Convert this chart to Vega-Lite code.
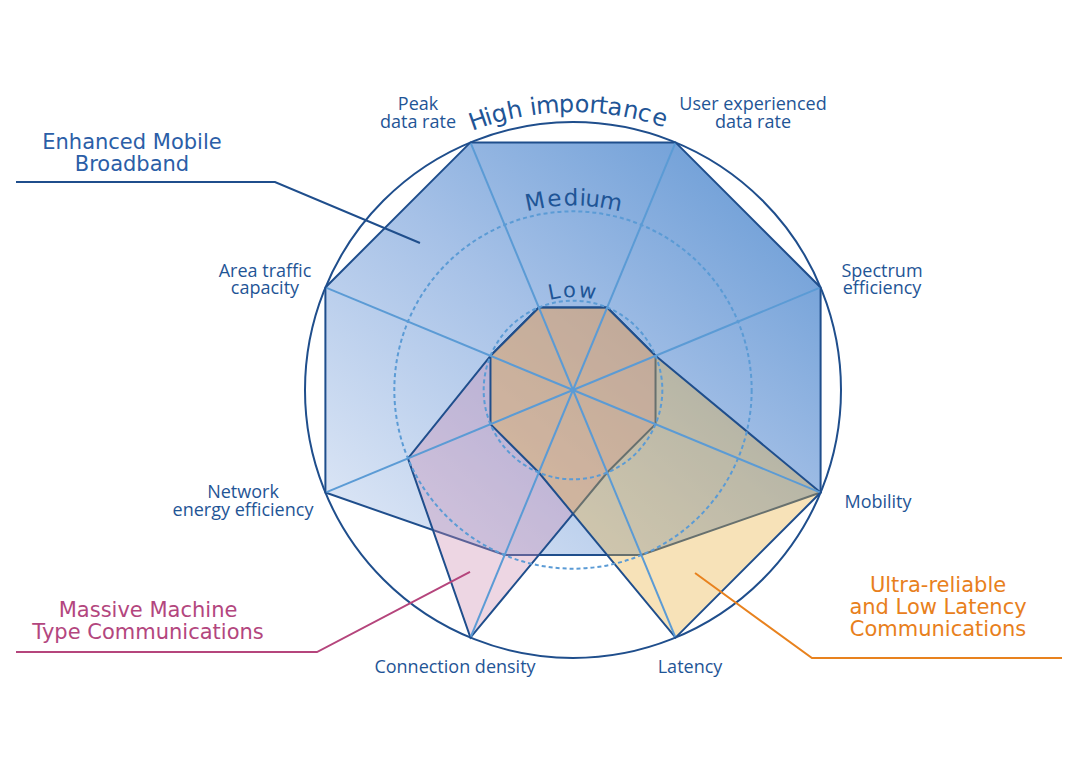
{
  "$schema": "https://vega.github.io/schema/vega-lite/v6.json",
  "width": 1080,
  "height": 758,
  "padding": 0,
  "autosize": {"type": "none"},
  "background": "white",
  "config": {"view": {"stroke": null}},
  "datasets": {
    "radar": [
      {"app": "eMBB", "axis": "Peak data rate", "idx": 0, "level": 3},
      {"app": "eMBB", "axis": "User experienced data rate", "idx": 1, "level": 3},
      {"app": "eMBB", "axis": "Spectrum efficiency", "idx": 2, "level": 3},
      {"app": "eMBB", "axis": "Mobility", "idx": 3, "level": 3},
      {"app": "eMBB", "axis": "Latency", "idx": 4, "level": 2},
      {"app": "eMBB", "axis": "Connection density", "idx": 5, "level": 2},
      {"app": "eMBB", "axis": "Network energy efficiency", "idx": 6, "level": 3},
      {"app": "eMBB", "axis": "Area traffic capacity", "idx": 7, "level": 3},
      {"app": "mMTC", "axis": "Peak data rate", "idx": 0, "level": 1},
      {"app": "mMTC", "axis": "User experienced data rate", "idx": 1, "level": 1},
      {"app": "mMTC", "axis": "Spectrum efficiency", "idx": 2, "level": 1},
      {"app": "mMTC", "axis": "Mobility", "idx": 3, "level": 1},
      {"app": "mMTC", "axis": "Latency", "idx": 4, "level": 1},
      {"app": "mMTC", "axis": "Connection density", "idx": 5, "level": 3},
      {"app": "mMTC", "axis": "Network energy efficiency", "idx": 6, "level": 2},
      {"app": "mMTC", "axis": "Area traffic capacity", "idx": 7, "level": 1},
      {"app": "URLLC", "axis": "Peak data rate", "idx": 0, "level": 1},
      {"app": "URLLC", "axis": "User experienced data rate", "idx": 1, "level": 1},
      {"app": "URLLC", "axis": "Spectrum efficiency", "idx": 2, "level": 1},
      {"app": "URLLC", "axis": "Mobility", "idx": 3, "level": 3},
      {"app": "URLLC", "axis": "Latency", "idx": 4, "level": 3},
      {"app": "URLLC", "axis": "Connection density", "idx": 5, "level": 1},
      {"app": "URLLC", "axis": "Network energy efficiency", "idx": 6, "level": 1},
      {"app": "URLLC", "axis": "Area traffic capacity", "idx": 7, "level": 1}
    ],
    "axes": [
      {"axis": "Peak data rate", "idx": 0},
      {"axis": "User experienced data rate", "idx": 1},
      {"axis": "Spectrum efficiency", "idx": 2},
      {"axis": "Mobility", "idx": 3},
      {"axis": "Latency", "idx": 4},
      {"axis": "Connection density", "idx": 5},
      {"axis": "Network energy efficiency", "idx": 6},
      {"axis": "Area traffic capacity", "idx": 7}
    ],
    "rings": [{"level": 1}, {"level": 2}, {"level": 3}],
    "arcText": [
      {"word": "high", "ch": "H", "a": -19.4, "r": 3.112},
      {"word": "high", "ch": "i", "a": -17.2, "r": 3.112},
      {"word": "high", "ch": "g", "a": -15.0, "r": 3.112},
      {"word": "high", "ch": "h", "a": -11.8, "r": 3.112},
      {"word": "high", "ch": "i", "a": -8.0, "r": 3.112},
      {"word": "high", "ch": "m", "a": -5.1, "r": 3.112},
      {"word": "high", "ch": "p", "a": -1.3, "r": 3.112},
      {"word": "high", "ch": "o", "a": 1.8, "r": 3.112},
      {"word": "high", "ch": "r", "a": 4.3, "r": 3.112},
      {"word": "high", "ch": "t", "a": 6.1, "r": 3.112},
      {"word": "high", "ch": "a", "a": 8.5, "r": 3.112},
      {"word": "high", "ch": "n", "a": 11.7, "r": 3.112},
      {"word": "high", "ch": "c", "a": 14.5, "r": 3.112},
      {"word": "high", "ch": "e", "a": 17.7, "r": 3.112},
      {"word": "medium", "ch": "M", "a": -11.4, "r": 2.065},
      {"word": "medium", "ch": "e", "a": -5.6, "r": 2.065},
      {"word": "medium", "ch": "d", "a": -0.6, "r": 2.065},
      {"word": "medium", "ch": "i", "a": 2.9, "r": 2.065},
      {"word": "medium", "ch": "u", "a": 5.9, "r": 2.065},
      {"word": "medium", "ch": "m", "a": 11.4, "r": 2.065},
      {"word": "low", "ch": "L", "a": -11.0, "r": 1.04},
      {"word": "low", "ch": "o", "a": -2.0, "r": 1.04},
      {"word": "low", "ch": "w", "a": 8.4, "r": 1.04}
    ],
    "labels": [
      {"text": "Peak\ndata rate", "x": -1.735, "y": 3.134},
      {"text": "User experienced\ndata rate", "x": 2.015, "y": 3.134},
      {"text": "Spectrum\nefficiency", "x": 3.459, "y": 1.265},
      {"text": "Mobility", "x": 3.414, "y": -1.321},
      {"text": "Latency", "x": 1.31, "y": -3.168},
      {"text": "Connection density", "x": -1.321, "y": -3.168},
      {"text": "Network\nenergy efficiency", "x": -3.694, "y": -1.209},
      {"text": "Area traffic\ncapacity", "x": -3.448, "y": 1.265}
    ],
    "callouts": [
      {"group": "eMBB", "text": "Enhanced Mobile\nBroadband", "x": -4.937, "y": 2.698},
      {"group": "mMTC", "text": "Massive Machine\nType Communications", "x": -4.757, "y": -2.541},
      {"group": "URLLC", "text": "Ultra-reliable\nand Low Latency\nCommunications", "x": 4.086, "y": -2.261}
    ],
    "leaders": [
      {"group": "eMBB", "k": 0, "x": -6.235, "y": 2.328},
      {"group": "eMBB", "k": 1, "x": -3.336, "y": 2.328},
      {"group": "eMBB", "k": 2, "x": -1.713, "y": 1.646},
      {"group": "mMTC", "k": 0, "x": -6.235, "y": -2.933},
      {"group": "mMTC", "k": 1, "x": -2.866, "y": -2.933},
      {"group": "mMTC", "k": 2, "x": -1.153, "y": -2.037},
      {"group": "URLLC", "k": 0, "x": 1.366, "y": -2.049},
      {"group": "URLLC", "k": 1, "x": 2.675, "y": -3.0},
      {"group": "URLLC", "k": 2, "x": 5.474, "y": -3.0}
    ]
  },
  "layer": [
    {
      "data": {"name": "radar"},
      "transform": [
        {"filter": "datum.app === 'eMBB'"},
        {"calculate": "datum.level * sin((datum.idx * 45 - 22.5) * PI / 180)", "as": "x"},
        {"calculate": "datum.level * cos((datum.idx * 45 - 22.5) * PI / 180)", "as": "y"}
      ],
      "mark": {
        "type": "line", "interpolate": "linear-closed",
        "fill": {"gradient": "linear", "x1": 0, "y1": 1, "x2": 1, "y2": 0,
          "stops": [{"offset": 0, "color": "#e2eaf7"}, {"offset": 0.5, "color": "#a6c1e7"}, {"offset": 1, "color": "#6196d3"}]},
        "stroke": "#1f4e8c", "strokeWidth": 2, "strokeJoin": "miter"
      },
      "encoding": {
        "x": {"field": "x", "type": "quantitative", "scale": {"domain": [-6.4142, 5.6754], "nice": false, "zero": false}, "axis": null},
        "y": {"field": "y", "type": "quantitative", "scale": {"domain": [-4.1194, 4.3657], "nice": false, "zero": false}, "axis": null},
        "order": {"field": "idx", "type": "quantitative"}
      }
    },
    {
      "data": {"name": "radar"},
      "transform": [
        {"filter": "datum.app === 'mMTC'"},
        {"calculate": "datum.level * sin((datum.idx * 45 - 22.5) * PI / 180)", "as": "x"},
        {"calculate": "datum.level * cos((datum.idx * 45 - 22.5) * PI / 180)", "as": "y"}
      ],
      "mark": {
        "type": "line", "interpolate": "linear-closed",
        "fill": "#cc8aaf", "fillOpacity": 0.35,
        "stroke": "#1f4e8c", "strokeWidth": 2, "strokeJoin": "miter"
      },
      "encoding": {
        "x": {"field": "x", "type": "quantitative", "scale": {"domain": [-6.4142, 5.6754], "nice": false, "zero": false}, "axis": null},
        "y": {"field": "y", "type": "quantitative", "scale": {"domain": [-4.1194, 4.3657], "nice": false, "zero": false}, "axis": null},
        "order": {"field": "idx", "type": "quantitative"}
      }
    },
    {
      "data": {"name": "radar"},
      "transform": [
        {"filter": "datum.app === 'URLLC'"},
        {"calculate": "datum.level * sin((datum.idx * 45 - 22.5) * PI / 180)", "as": "x"},
        {"calculate": "datum.level * cos((datum.idx * 45 - 22.5) * PI / 180)", "as": "y"}
      ],
      "mark": {
        "type": "line", "interpolate": "linear-closed",
        "fill": "#e8b03a", "fillOpacity": 0.36,
        "stroke": "#1f4e8c", "strokeWidth": 2, "strokeJoin": "miter"
      },
      "encoding": {
        "x": {"field": "x", "type": "quantitative", "scale": {"domain": [-6.4142, 5.6754], "nice": false, "zero": false}, "axis": null},
        "y": {"field": "y", "type": "quantitative", "scale": {"domain": [-4.1194, 4.3657], "nice": false, "zero": false}, "axis": null},
        "order": {"field": "idx", "type": "quantitative"}
      }
    },
    {
      "data": {"name": "axes"},
      "transform": [
        {"calculate": "3 * sin((datum.idx * 45 - 22.5) * PI / 180)", "as": "xe"},
        {"calculate": "3 * cos((datum.idx * 45 - 22.5) * PI / 180)", "as": "ye"},
        {"calculate": "0", "as": "x"},
        {"calculate": "0", "as": "y"}
      ],
      "mark": {"type": "rule", "stroke": "#5b9bd5", "strokeWidth": 2},
      "encoding": {
        "x": {"field": "x", "type": "quantitative", "scale": {"domain": [-6.4142, 5.6754], "nice": false, "zero": false}, "axis": null},
        "y": {"field": "y", "type": "quantitative", "scale": {"domain": [-4.1194, 4.3657], "nice": false, "zero": false}, "axis": null},
        "x2": {"field": "xe"},
        "y2": {"field": "ye"}
      }
    },
    {
      "data": {"name": "rings"},
      "transform": [
        {"filter": "datum.level < 3"},
        {"calculate": "0", "as": "x"},
        {"calculate": "0", "as": "y"}
      ],
      "mark": {"type": "point", "shape": "circle", "filled": false, "opacity": 1, "stroke": "#5b9bd5", "strokeWidth": 2, "strokeDash": [4, 3]},
      "encoding": {
        "x": {"field": "x", "type": "quantitative", "scale": {"domain": [-6.4142, 5.6754], "nice": false, "zero": false}, "axis": null},
        "y": {"field": "y", "type": "quantitative", "scale": {"domain": [-4.1194, 4.3657], "nice": false, "zero": false}, "axis": null},
        "size": {"field": "level", "type": "quantitative", "scale": {"type": "pow", "exponent": 2, "domain": [0, 3], "range": [0, 287296]}, "legend": null}
      }
    },
    {
      "data": {"name": "rings"},
      "transform": [
        {"filter": "datum.level === 3"},
        {"calculate": "0", "as": "x"},
        {"calculate": "0", "as": "y"}
      ],
      "mark": {"type": "point", "shape": "circle", "filled": false, "opacity": 1, "stroke": "#1f4e8c", "strokeWidth": 2},
      "encoding": {
        "x": {"field": "x", "type": "quantitative", "scale": {"domain": [-6.4142, 5.6754], "nice": false, "zero": false}, "axis": null},
        "y": {"field": "y", "type": "quantitative", "scale": {"domain": [-4.1194, 4.3657], "nice": false, "zero": false}, "axis": null},
        "size": {"field": "level", "type": "quantitative", "scale": {"type": "pow", "exponent": 2, "domain": [0, 3], "range": [0, 287296]}, "legend": null}
      }
    },
    {
      "data": {"name": "arcText"},
      "transform": [
        {"filter": "datum.word === 'high'"},
        {"calculate": "datum.r * sin(datum.a * PI / 180)", "as": "x"},
        {"calculate": "datum.r * cos(datum.a * PI / 180)", "as": "y"}
      ],
      "mark": {"type": "text", "font": "DejaVu Sans", "fontSize": 24, "fill": "#1f5596", "align": "center", "baseline": "alphabetic"},
      "encoding": {
        "x": {"field": "x", "type": "quantitative", "scale": {"domain": [-6.4142, 5.6754], "nice": false, "zero": false}, "axis": null},
        "y": {"field": "y", "type": "quantitative", "scale": {"domain": [-4.1194, 4.3657], "nice": false, "zero": false}, "axis": null},
        "text": {"field": "ch"},
        "angle": {"field": "a", "type": "quantitative", "scale": null}
      }
    },
    {
      "data": {"name": "arcText"},
      "transform": [
        {"filter": "datum.word === 'medium'"},
        {"calculate": "datum.r * sin(datum.a * PI / 180)", "as": "x"},
        {"calculate": "datum.r * cos(datum.a * PI / 180)", "as": "y"}
      ],
      "mark": {"type": "text", "font": "DejaVu Sans", "fontSize": 23, "fill": "#1f5596", "align": "center", "baseline": "alphabetic"},
      "encoding": {
        "x": {"field": "x", "type": "quantitative", "scale": {"domain": [-6.4142, 5.6754], "nice": false, "zero": false}, "axis": null},
        "y": {"field": "y", "type": "quantitative", "scale": {"domain": [-4.1194, 4.3657], "nice": false, "zero": false}, "axis": null},
        "text": {"field": "ch"},
        "angle": {"field": "a", "type": "quantitative", "scale": null}
      }
    },
    {
      "data": {"name": "arcText"},
      "transform": [
        {"filter": "datum.word === 'low'"},
        {"calculate": "datum.r * sin(datum.a * PI / 180)", "as": "x"},
        {"calculate": "datum.r * cos(datum.a * PI / 180)", "as": "y"}
      ],
      "mark": {"type": "text", "font": "DejaVu Sans", "fontSize": 21, "fill": "#1f5596", "align": "center", "baseline": "alphabetic"},
      "encoding": {
        "x": {"field": "x", "type": "quantitative", "scale": {"domain": [-6.4142, 5.6754], "nice": false, "zero": false}, "axis": null},
        "y": {"field": "y", "type": "quantitative", "scale": {"domain": [-4.1194, 4.3657], "nice": false, "zero": false}, "axis": null},
        "text": {"field": "ch"},
        "angle": {"field": "a", "type": "quantitative", "scale": null}
      }
    },
    {
      "data": {"name": "labels"},
      "mark": {"type": "text", "font": "Open Sans", "fontSize": 18, "fill": "#1f5596", "align": "center", "baseline": "alphabetic", "lineBreak": "\n", "lineHeight": 17.5},
      "encoding": {
        "x": {"field": "x", "type": "quantitative", "scale": {"domain": [-6.4142, 5.6754], "nice": false, "zero": false}, "axis": null},
        "y": {"field": "y", "type": "quantitative", "scale": {"domain": [-4.1194, 4.3657], "nice": false, "zero": false}, "axis": null},
        "text": {"field": "text"}
      }
    },
    {
      "data": {"name": "leaders"},
      "mark": {"type": "line", "strokeWidth": 2},
      "encoding": {
        "x": {"field": "x", "type": "quantitative", "scale": {"domain": [-6.4142, 5.6754], "nice": false, "zero": false}, "axis": null},
        "y": {"field": "y", "type": "quantitative", "scale": {"domain": [-4.1194, 4.3657], "nice": false, "zero": false}, "axis": null},
        "detail": {"field": "group"},
        "order": {"field": "k", "type": "quantitative"},
        "stroke": {"field": "group", "type": "nominal", "scale": {"domain": ["eMBB", "mMTC", "URLLC"], "range": ["#1f4e8c", "#b5457c", "#e8821e"]}, "legend": null}
      }
    },
    {
      "data": {"name": "callouts"},
      "mark": {"type": "text", "font": "DejaVu Sans", "fontSize": 21, "align": "center", "baseline": "alphabetic", "lineBreak": "\n", "lineHeight": 22},
      "encoding": {
        "x": {"field": "x", "type": "quantitative", "scale": {"domain": [-6.4142, 5.6754], "nice": false, "zero": false}, "axis": null},
        "y": {"field": "y", "type": "quantitative", "scale": {"domain": [-4.1194, 4.3657], "nice": false, "zero": false}, "axis": null},
        "text": {"field": "text"},
        "fill": {"field": "group", "type": "nominal", "scale": {"domain": ["eMBB", "mMTC", "URLLC"], "range": ["#2b5ea7", "#b3467e", "#e8801c"]}, "legend": null}
      }
    }
  ]
}
